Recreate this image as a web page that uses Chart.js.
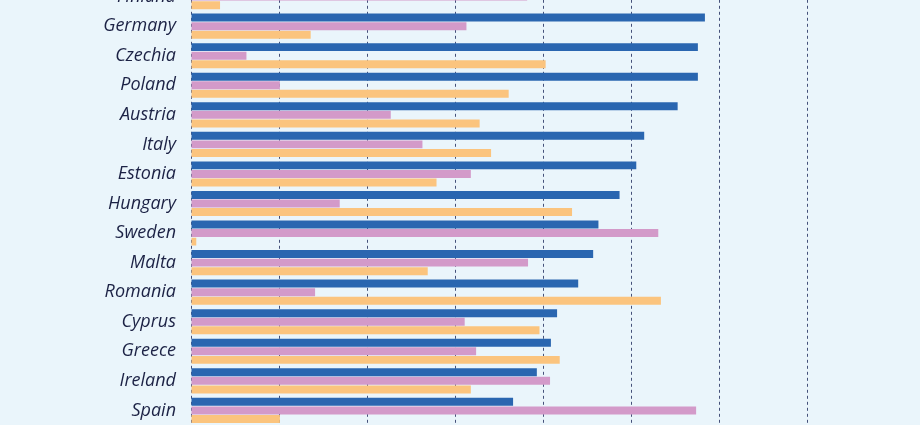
<!DOCTYPE html>
<html>
<head>
<meta charset="utf-8">
<script src="https://cdn.jsdelivr.net/npm/chart.js@4"></script>
<style>
  html, body { margin: 0; padding: 0; background: #eaf5fb; overflow: hidden; }
  #wrap { position: absolute; left: 0; top: -44px; width: 920px; height: 495px; }
</style>
</head>
<body>
<div id="wrap"><canvas id="chart"></canvas></div>
<script>
const countries = ['Finland', 'Germany', 'Czechia', 'Poland', 'Austria', 'Italy', 'Estonia', 'Hungary',
  'Sweden', 'Malta', 'Romania', 'Cyprus', 'Greece', 'Ireland', 'Spain'];
const seriesBlue   = [60.5, 58.4, 57.6, 57.6, 55.3, 51.5, 50.6, 48.7, 46.3, 45.7, 44.0, 41.6, 40.9, 39.3, 36.6];
const seriesPink   = [38.2, 31.3, 6.3, 10.1, 22.7, 26.3, 31.8, 16.9, 53.1, 38.3, 14.1, 31.1, 32.4, 40.8, 57.4];
const seriesOrange = [3.3, 13.6, 40.3, 36.1, 32.8, 34.1, 27.9, 43.3, 0.6, 26.9, 53.4, 39.6, 41.9, 31.8, 10.1];

const bar = { categoryPercentage: 0.87, barPercentage: 0.93, borderWidth: 0 };

new Chart(document.getElementById('chart'), {
  type: 'bar',
  data: {
    labels: countries,
    datasets: [
      { label: 'A', data: seriesBlue, backgroundColor: '#2a66b0', ...bar },
      { label: 'B', data: seriesPink, backgroundColor: '#d39ac9', ...bar },
      { label: 'C', data: seriesOrange, backgroundColor: '#fbc47e', ...bar }
    ]
  },
  options: {
    indexAxis: 'y',
    responsive: true,
    maintainAspectRatio: false,
    animation: false,
    layout: { padding: { left: 0, right: 33.8, top: 0, bottom: 0 } },
    plugins: { legend: { display: false }, tooltip: { enabled: false } },
    scales: {
      x: {
        min: 0,
        max: 79,
        ticks: { display: false, stepSize: 10, includeBounds: false },
        grid: { color: '#45517a', lineWidth: 1, drawTicks: false },
        border: { display: false, dash: [3, 3] }
      },
      y: {
        afterFit(scale) { scale.width = 191; },
        ticks: {
          padding: 15,
          color: '#1c2245',
          font: { family: 'Open Sans', style: 'italic', size: 18 }
        },
        grid: { display: false, drawTicks: false },
        border: { display: false }
      }
    }
  }
});
</script>
</body>
</html>
